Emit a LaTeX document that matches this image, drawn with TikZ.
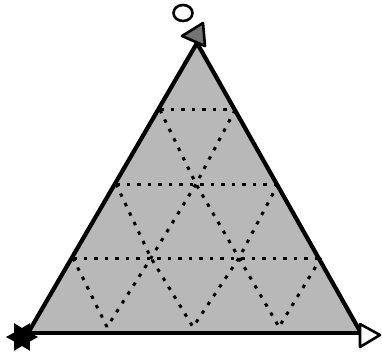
\documentclass[tikz,border=0pt]{standalone}
\usetikzlibrary{calc}
\begin{document}
\begin{tikzpicture}[x=1pt,y=-1pt,
  edge/.style={line width=4.2pt,line cap=round,line join=round},
  gridline/.style={line width=3pt,dash pattern=on 3.5pt off 7pt,line cap=butt},
  marker/.style={line width=2.6pt,line join=round}]
\useasboundingbox (0,0) rectangle (382,358);
% main vertices
\coordinate (A) at (28,333);
\coordinate (B) at (361,333);
\coordinate (C) at (197,43);
% grid points
\coordinate (L3) at (160,110); \coordinate (R3) at (235,110);
\coordinate (L2) at (116,184); \coordinate (M2) at (196,184); \coordinate (R2) at (278,184);
\coordinate (L1) at (73,258);  \coordinate (P1) at (151,258); \coordinate (Q1) at (239,258); \coordinate (R1) at (321,258);
\coordinate (D1) at (107,327); \coordinate (D2) at (193,327); \coordinate (D3) at (279,327);
% shaded triangle
\fill[black!28] (A) -- (B) -- (C) -- cycle;
% dotted grid
\draw[gridline] (L3) -- (R3);
\draw[gridline] (L2) -- (R2);
\draw[gridline] (L1) -- (R1);
\draw[gridline] (L3) -- (M2) -- (Q1) -- (D3);
\draw[gridline] (L2) -- (P1) -- (D2);
\draw[gridline] (L1) -- (D1);
\draw[gridline] (R3) -- (M2) -- (P1) -- (D1);
\draw[gridline] (R2) -- (Q1) -- (D2);
\draw[gridline] (R1) -- (D3);
% edges
\draw[edge] (A) -- (C) -- (B);
\draw[line width=4.5pt] (A) -- (B);
% top markers
\draw[marker] (183,13) ellipse [x radius=9.5,y radius=8];
\coordinate (T1) at (182,36); \coordinate (T2) at (203,23); \coordinate (T3) at (205,46);
\filldraw[marker,fill=black!55] (T1) -- (T2) -- (T3) -- cycle;
% right marker
\coordinate (S1) at (360,324); \coordinate (S2) at (380,335); \coordinate (S3) at (360,347);
\filldraw[marker,fill=white] (S1) -- (S2) -- (S3) -- cycle;
% star marker
\fill[black] (22,337) ++(0:16)
  \foreach \i in {1,...,11}{ -- ($(22,337)+(\i*30:{mod(\i,2)==0 ? 16 : 9})$) } -- cycle;
\end{tikzpicture}
\end{document}
